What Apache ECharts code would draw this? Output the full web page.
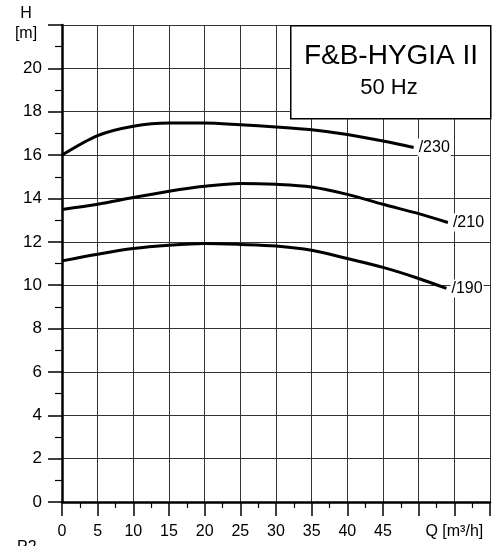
<!DOCTYPE html>
<html><head><meta charset="utf-8">
<script src="https://cdn.jsdelivr.net/npm/echarts@6/dist/echarts.min.js"></script>
<style>html,body{margin:0;padding:0;background:#fff}#c{width:497px;height:546px}</style>
</head><body><div id="c"></div>
<script>
const q230 = [0, 5, 10, 15, 20, 25, 30, 35, 40, 45, 49.3];
const h230 = [16.0, 16.9, 17.33, 17.48, 17.48, 17.4, 17.3, 17.17, 16.95, 16.65, 16.35];
const q210 = [0, 5, 10, 15, 20, 25, 30, 35, 40, 45, 50, 54.1];
const h210 = [13.49, 13.73, 14.04, 14.33, 14.56, 14.69, 14.65, 14.53, 14.19, 13.73, 13.3, 12.89];
const q190 = [0, 5, 10, 15, 20, 25, 30, 35, 40, 45, 50, 53.9];
const h190 = [11.12, 11.43, 11.69, 11.84, 11.92, 11.88, 11.81, 11.61, 11.23, 10.82, 10.31, 9.85];
const curveNames = ['/230', '/210', '/190'];
const xTickLabels = {0:'0',5:'5',10:'10',15:'15',20:'20',25:'25',30:'30',35:'35',40:'40',45:'45',55:'Q [m³/h]'};
const yTickLabels = ['0','2','4','6','8','10','12','14','16','18','20'];
const titleText = 'F&B-HYGIA II';
const subText = '50 Hz';

const FONT = 'Liberation Sans, Arial, sans-serif';
const chart = echarts.init(document.getElementById('c'), null, {renderer: 'canvas'});

function mk(q, h, name) {
  return {
    type: 'line', name: name,
    data: q.map((v, i) => [v, h[i]]),
    smooth: 0.3, showSymbol: false, symbol: 'none',
    lineStyle: {color: '#000', width: 3},
    endLabel: {show: true, formatter: name, color: '#000', fontSize: 16, fontFamily: FONT,
      backgroundColor: '#fff', padding: [1, 1], distance: 4},
    z: 5
  };
}

chart.setOption({
  animation: false,
  backgroundColor: '#fff',
  grid: {left: 62, right: 7, top: 25, bottom: 44, containLabel: false},
  xAxis: {
    type: 'value', min: 0, max: 60, interval: 5,
    axisLine: {show: true, onZero: false, lineStyle: {color: '#000', width: 2.5}},
    axisTick: {show: true, length: 14, lineStyle: {color: '#000', width: 1.5}},
    minorTick: {show: true, splitNumber: 2, length: 6, lineStyle: {color: '#000', width: 1.2}},
    splitLine: {show: true, lineStyle: {color: '#333', width: 1}},
    axisLabel: {show: true, margin: 22, fontSize: 16, color: '#000', fontFamily: FONT,
      formatter: v => (xTickLabels[v] !== undefined ? xTickLabels[v] : ''), showMaxLabel: true, hideOverlap: false}
  },
  yAxis: {
    type: 'value', min: 0, max: 22, interval: 2,
    axisLine: {show: true, onZero: false, lineStyle: {color: '#000', width: 2.5}},
    axisTick: {show: true, length: 14, lineStyle: {color: '#000', width: 1.5}},
    minorTick: {show: true, splitNumber: 2, length: 7, lineStyle: {color: '#000', width: 1.2}},
    splitLine: {show: true, lineStyle: {color: '#333', width: 1}},
    axisLabel: {show: true, margin: 20, fontSize: 17, color: '#000', fontFamily: FONT,
      formatter: v => (yTickLabels[v / 2] !== undefined ? yTickLabels[v / 2] : '')}
  },
  series: [mk(q230, h230, curveNames[0]), mk(q210, h210, curveNames[1]), mk(q190, h190, curveNames[2])],
  graphic: [
    {type: 'rect', left: 290, top: 25, shape: {width: 200, height: 93}, style: {fill: '#fff', stroke: '#000', lineWidth: 1.5}, z: 100},
    {type: 'text', x: 391, y: 56, style: {text: titleText, font: '28px ' + FONT, fill: '#000', textAlign: 'center', textVerticalAlign: 'middle'}, z: 101},
    {type: 'text', x: 389, y: 88, style: {text: subText, font: '22px ' + FONT, fill: '#000', textAlign: 'center', textVerticalAlign: 'middle'}, z: 101},
    {type: 'text', x: 26, y: 14, style: {text: 'H', font: '16px ' + FONT, fill: '#000', textAlign: 'center', textVerticalAlign: 'middle'}, z: 101},
    {type: 'text', x: 26, y: 34, style: {text: '[m]', font: '16px ' + FONT, fill: '#000', textAlign: 'center', textVerticalAlign: 'middle'}, z: 101},
    {type: 'text', x: 17, y: 540, style: {text: 'P2', font: '16px ' + FONT, fill: '#000', textAlign: 'left', textVerticalAlign: 'top'}, z: 101}
  ]
});
</script></body></html>
